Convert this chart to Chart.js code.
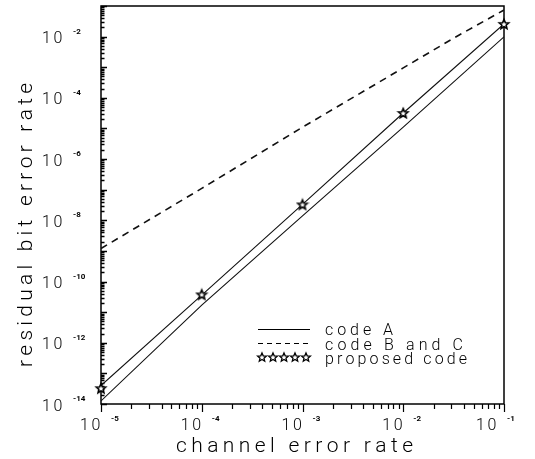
<!DOCTYPE html>
<html><head><meta charset="utf-8">
<script src="https://cdn.jsdelivr.net/npm/chart.js@4.4.1/dist/chart.umd.min.js"></script>
<style>html,body{margin:0;padding:0;background:#fff}#wrap{width:535px;height:459px}</style>
</head><body><div id="wrap"><canvas id="c" width="535" height="459"></canvas></div>
<script>
// ---- data ----
const channelErrorRate = [1e-5, 1e-4, 1e-3, 1e-2, 1e-1];
const codeAUpper = [4.0e-14, 3.6e-11, 3.3e-8, 3.2e-5, 2.6e-2];
const codeALower = [1.26e-14, 1.7e-11, 1.4e-8, 1.1e-5, 9.8e-3];
const codeBCx = [1e-5, 1e-4, 1e-3, 1e-2, 3.16e-2, 1e-1];
const codeBC = [1.2e-9, 1.1e-7, 1.1e-5, 9.5e-4, 8.9e-3, 7.4e-2];
const proposedCode = [3.3e-14, 3.8e-11, 3.3e-8, 3.2e-5, 2.6e-2];
const xTickExponents = [-5, -4, -3, -2, -1];
const yTickExponents = [-2, -4, -6, -8, -10, -12, -14];
const legendLabels = ['code A', 'code B and C', 'proposed code'];
const xTitle = 'channel error rate';
const yTitle = 'residual bit error rate';

const FONT = 'Roboto';
function makeStar(r, lw) {
  const s = Math.ceil(r * 2 + 4);
  const c = document.createElement('canvas');
  c.width = s; c.height = s;
  const g = c.getContext('2d');
  g.translate(s / 2, s / 2 + 0.5);
  g.beginPath();
  for (let i = 0; i < 10; i++) {
    const rr = i % 2 ? r * 0.45 : r;
    const a = -Math.PI / 2 + i * Math.PI / 5;
    g.lineTo(rr * Math.cos(a), rr * Math.sin(a));
  }
  g.closePath();
  g.fillStyle = '#fff'; g.fill();
  g.lineWidth = lw; g.strokeStyle = '#000'; g.stroke();
  return c;
}
const starImg = makeStar(5.0, 1.6);
const starSmall = makeStar(4.6, 1.3);

const pts = (xs, ys) => xs.map((x, i) => ({x, y: ys[i]}));

function spacedText(ctx, text, x, y, spacing) {
  let cx = x;
  for (const ch of text) {
    ctx.fillText(ch, cx, y);
    cx += ctx.measureText(ch).width + spacing;
  }
}
function fitSpacing(ctx, text, width) {
  let w = 0;
  for (const ch of text) w += ctx.measureText(ch).width;
  return (width - w) / (text.length - 1);
}

const decor = {
  id: 'decor',
  beforeDatasetsDraw(chart) {
    const {ctx, chartArea: a} = chart;
    const xs = chart.scales.x, ys = chart.scales.y;
    ctx.save();
    ctx.strokeStyle = '#000';
    ctx.lineWidth = 1.5;
    ctx.strokeRect(a.left, a.top, a.right - a.left, a.bottom - a.top);
    ctx.lineWidth = 1.4;
    ctx.beginPath();
    for (let k = -14; k <= -1; k++) {
      for (let m = 1; m <= 9; m++) {
        const v = m * Math.pow(10, k);
        if (v > ys.max * 1.0001) continue;
        const py = Math.round(ys.getPixelForValue(v)) + 0.5;
        const len = m === 1 ? 6 : 3.5;
        ctx.moveTo(a.left, py); ctx.lineTo(a.left + len, py);
      }
    }
    ctx.stroke();
    ctx.lineWidth = 1.2;
    ctx.beginPath();
    for (let k = -5; k <= -1; k++) {
      for (let m = 1; m <= 9; m++) {
        const v = m * Math.pow(10, k);
        if (v > xs.max * 1.0001) continue;
        const px = Math.round(xs.getPixelForValue(v)) + 0.5;
        const len = m === 1 ? 8 : 5;
        ctx.moveTo(px, a.bottom); ctx.lineTo(px, a.bottom + len);
      }
    }
    ctx.stroke();
    ctx.restore();
  },
  afterDraw(chart) {
    const {ctx} = chart;
    const xs = chart.scales.x, ys = chart.scales.y;
    ctx.save();
    ctx.fillStyle = '#000';
    ctx.textBaseline = 'middle';
    ctx.textAlign = 'left';
    for (const e of yTickExponents) {
      const py = ys.getPixelForValue(Math.pow(10, e));
      ctx.font = `300 16px ${FONT}`;
      spacedText(ctx, '10', 42, py + 2.5, 2.5);
      ctx.font = `bold 8px ${FONT}`;
      ctx.fillText('-' + Math.abs(e), 73, py - 5);
    }
    for (const e of xTickExponents) {
      const px = xs.getPixelForValue(Math.pow(10, e));
      ctx.font = `300 16px ${FONT}`;
      const off = e === -1 ? -7 : 0;
      spacedText(ctx, '10', px - 21 + off, 426, 2.5);
      ctx.font = `bold 8px ${FONT}`;
      ctx.fillText('-' + Math.abs(e), px + 10 + off, 419);
    }
    ctx.textBaseline = 'alphabetic';
    ctx.font = `300 21px ${FONT}`;
    spacedText(ctx, xTitle, 176, 452, fitSpacing(ctx, xTitle, 237));
    ctx.save();
    ctx.translate(32, 367);
    ctx.rotate(-Math.PI / 2);
    spacedText(ctx, yTitle, 0, 0, fitSpacing(ctx, yTitle, 284));
    ctx.restore();
    const lx0 = 258, lx1 = 310;
    ctx.strokeStyle = '#000';
    ctx.lineWidth = 1;
    ctx.beginPath(); ctx.moveTo(lx0, 329.5); ctx.lineTo(lx1, 329.5); ctx.stroke();
    ctx.lineWidth = 1.2;
    ctx.setLineDash([5, 4]);
    ctx.beginPath(); ctx.moveTo(lx0, 343.5); ctx.lineTo(lx1, 343.5); ctx.stroke();
    ctx.setLineDash([]);
    for (let i = 0; i < 5; i++) {
      const cx = 262 + i * 11;
      ctx.drawImage(starSmall, cx - starSmall.width / 2, 357 - starSmall.height / 2);
    }
    ctx.font = `300 16px ${FONT}`;
    const widths = [68, 138, 142];
    const bases = [335, 349.5, 364];
    legendLabels.forEach((t, i) => {
      spacedText(ctx, t, 325, bases[i], fitSpacing(ctx, t, widths[i]));
    });
    ctx.restore();
  }
};

new Chart(document.getElementById('c'), {
  type: 'line',
  data: {
    datasets: [
      { label: 'proposed code', data: pts(channelErrorRate, proposedCode), showLine: false,
        pointStyle: starImg, pointRadius: 5, borderColor: '#000', clip: false, order: 0 },
      { label: 'code A', data: pts(channelErrorRate, codeAUpper), borderColor: '#111',
        borderWidth: 1.1, pointRadius: 0, fill: false, order: 1 },
      { label: 'code A (lower)', data: pts(channelErrorRate, codeALower), borderColor: '#111',
        borderWidth: 1.1, pointRadius: 0, fill: false, order: 1 },
      { label: 'code B and C', data: pts(codeBCx, codeBC), borderColor: '#111',
        borderWidth: 1.6, borderDash: [7, 5.5], pointRadius: 0, fill: false, order: 2 }
    ]
  },
  options: {
    responsive: false, animation: false, devicePixelRatio: 1,
    layout: { padding: { left: 0, right: 31, top: 6, bottom: 0 } },
    plugins: { legend: { display: false }, tooltip: { enabled: false } },
    elements: { line: { tension: 0 } },
    scales: {
      x: { type: 'logarithmic', min: 1e-5, max: 1e-1, position: 'bottom',
        grid: { display: false }, border: { display: false }, ticks: { display: false },
        afterFit(s) { s.height = 55; } },
      y: { type: 'logarithmic', min: 1e-14, max: 1e-1, position: 'left',
        grid: { display: false }, border: { display: false }, ticks: { display: false },
        afterFit(s) { s.width = 101; } }
    }
  },
  plugins: [decor]
});
</script></body></html>
